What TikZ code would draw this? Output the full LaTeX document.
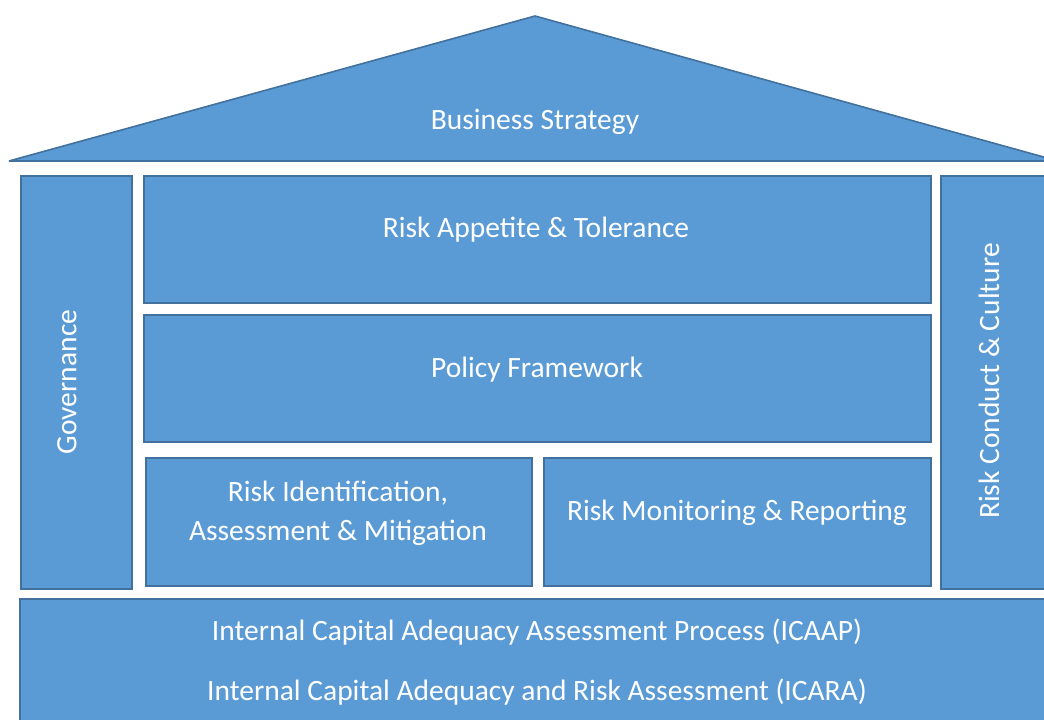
\documentclass[tikz,border=0pt]{standalone}
\usepackage{fontspec}
\setmainfont{Carlito}
\definecolor{boxfill}{HTML}{5B9BD5}
\definecolor{boxline}{HTML}{41719C}
\tikzset{
  block/.style={draw=boxline,fill=boxfill,line width=1.6pt,anchor=north west,inner sep=0pt},
  lbl/.style={text=white,font=\fontsize{29.5}{39}\selectfont,align=center},
}
\begin{document}
\begin{tikzpicture}[x=1pt,y=-1pt]
  \useasboundingbox (0,0) rectangle (1044,720);
  % roof
  \draw[draw=boxline,fill=boxfill,line width=1.6pt,line join=bevel]
    (9,161)--(535,16)--(1058,161)--cycle;
  \node[lbl] (strategy) at (535,122) {Business Strategy};
  % pillars
  \node[block,minimum width=130,minimum height=413] (conduct) at (940,175) {};
  \node[block,minimum width=111,minimum height=413] (gov) at (20,175) {};
  \node[lbl,rotate=90] at (67,382) {Governance};
  \node[lbl,rotate=90] at (989,381) {Risk Conduct \& Culture};
  % middle rows
  \node[block,minimum width=787,minimum height=127] (appetite) at (143,175) {};
  \node[lbl] at (536,230) {Risk Appetite \& Tolerance};
  \node[block,minimum width=787,minimum height=127] (policy) at (143,314) {};
  \node[lbl] at (537,370) {Policy Framework};
  \node[block,minimum width=386,minimum height=128] (ident) at (145,457) {};
  \node[lbl] at (338,513) {Risk Identification,\\Assessment \& Mitigation};
  \node[block,minimum width=387,minimum height=128] (monitor) at (543,457) {};
  \node[lbl] at (737,513) {Risk Monitoring \& Reporting};
  % base
  \node[block,minimum width=1050,minimum height=140] (base) at (19,598) {};
  \node[lbl] at (537,632) {Internal Capital Adequacy Assessment Process (ICAAP)};
  \node[lbl] at (537,692) {Internal Capital Adequacy and Risk Assessment (ICARA)};
\end{tikzpicture}
\end{document}
